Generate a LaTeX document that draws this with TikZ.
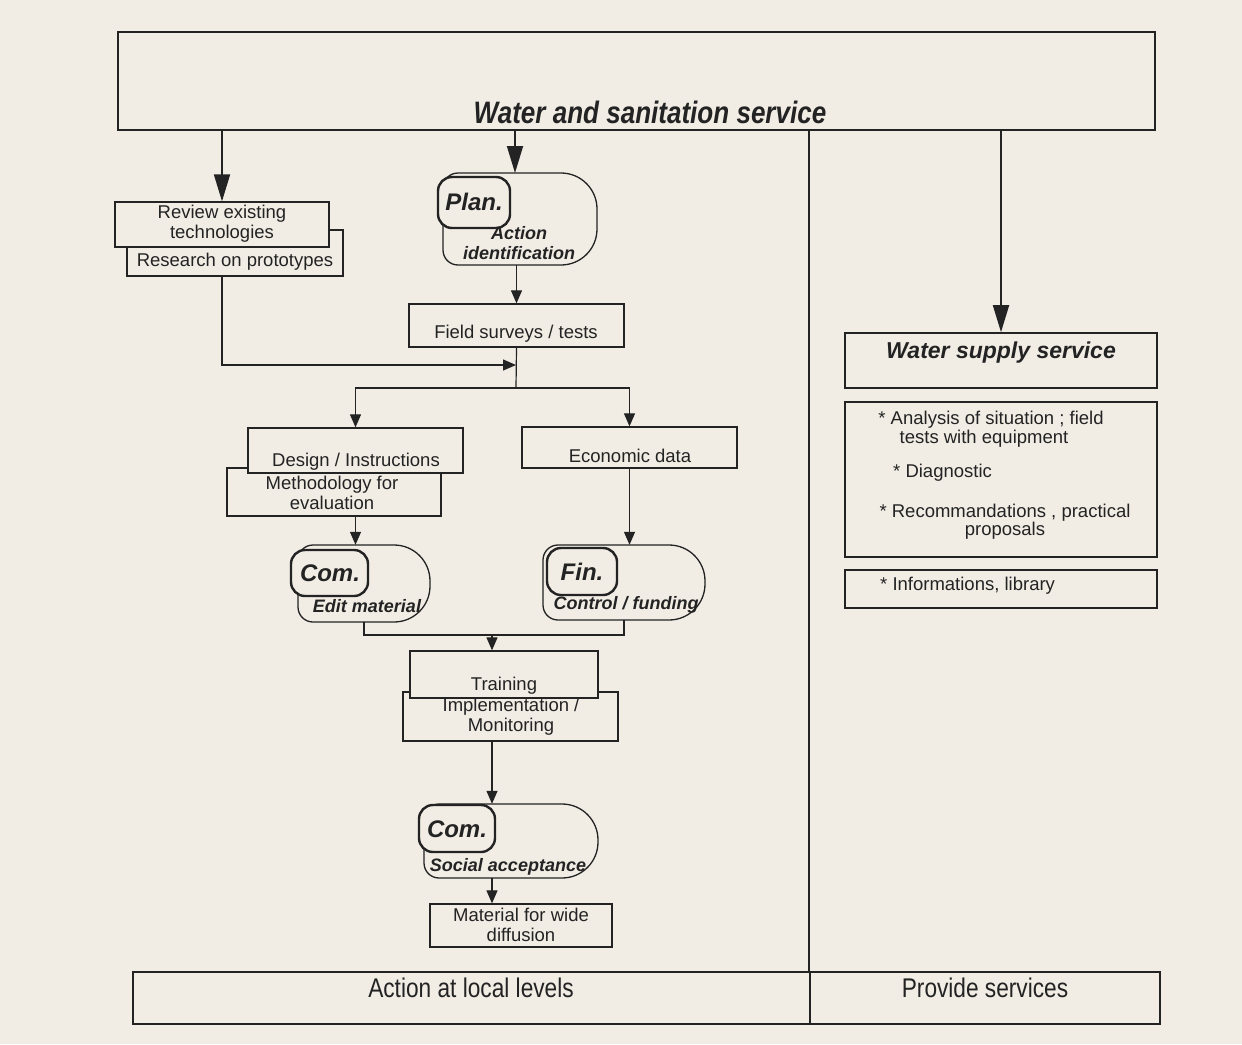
\documentclass[tikz,border=0pt]{standalone}
\usepackage{fontspec}
\setmainfont{Liberation Sans}
\newfontfamily\narrowfont[FakeStretch=0.84]{Liberation Sans}
\usetikzlibrary{arrows.meta,fit,calc}
\definecolor{paper}{RGB}{241,237,229}
\definecolor{ink}{RGB}{35,35,35}
\newcommand\pillshape[5]{%
  \node[fit={(#2,#3) (#4,#5)}, inner sep=0pt] (#1) {};
  \filldraw[pillline] (#2+15,#3) -- (#4-36,#3)
    .. controls (#4-16.1,#3) and (#4,#3+16.1) .. (#4,#3+36)
    -- (#4,#5-36)
    .. controls (#4,#5-16.1) and (#4-16.1,#5) .. (#4-36,#5)
    -- (#2+15,#5)
    .. controls (#2+6.7,#5) and (#2,#5-6.7) .. (#2,#5-15)
    -- (#2,#3+15)
    .. controls (#2,#3+6.7) and (#2+6.7,#3) .. (#2+15,#3) -- cycle;}
\begin{document}
\begin{tikzpicture}[x=1pt,y=-1pt,
  box/.style={draw=ink, line width=1.3pt, fill=paper, inner sep=0pt},
  bigbox/.style={draw=ink, line width=2pt, inner sep=0pt},
  innerbox/.style={draw=ink, line width=2.4pt, fill=paper, rounded corners=14pt, inner sep=0pt},
  pillline/.style={draw=ink, line width=1.3pt, fill=paper},
  txt/.style={font=\fontsize{18.5}{20}\selectfont, align=center, text=ink, inner sep=0pt},
  lbl/.style={font=\fontsize{18}{20}\selectfont\bfseries\itshape, align=center, text=ink, inner sep=0pt},
  biglbl/.style={font=\fontsize{24}{26}\selectfont\bfseries\itshape, text=ink, inner sep=0pt},
  ttl/.style={font=\narrowfont\fontsize{31}{34}\selectfont\bfseries\itshape, text=ink, inner sep=0pt},
  btxt/.style={font=\narrowfont\fontsize{27}{30}\selectfont, text=ink, inner sep=0pt},
  conn/.style={draw=ink, line width=1.2pt},
  arr/.style={conn, -{Triangle[width=11pt,length=13pt]}},
  bigarr/.style={conn, line width=1.8pt, -{Triangle[width=16pt,length=27pt]}}]
\fill[paper] (0,0) rectangle (1242,1044);
\useasboundingbox (0,0) rectangle (1242,1044);

% top box
\node[bigbox, fit={(118,32) (1155,130)}] (top) {};
\node[ttl] (ttltext) at (650,112) {Water and sanitation service};

% bottom boxes
\node[bigbox, fit={(133,972) (810,1024)}] (local) {};
\node[bigbox, fit={(810,972) (1160,1024)}] (prov) {};
\node[btxt] (tlocal) at (471,988) {Action at local levels};
\node[btxt] (tprov) at (985,988) {Provide services};
\draw[conn] (top.south -| prov.west) -- (prov.north west);

% review / research
\node[box, fit={(127,230) (343,276)}] (research) {};
\node[box, fit={(115,202) (329,247)}] (review) {};
\node[txt] (treview) at (222,224) {Review existing\\technologies};
\node[txt] (tresearch) at (235,262) {Research on prototypes};
\draw[bigarr] (review.north |- top.south) -- (review.north);

% plan
\pillshape{planout}{443}{173}{597}{265}
\node[innerbox, fit={(438,177) (510,228)}] (planin) {};
\node[biglbl] (tplan) at (474,202) {Plan.};
\node[lbl] (tplanout) at (519,243) {Action\\identification};
\coordinate (pa) at (515,173);
\draw[bigarr] (pa |- top.south) -- (pa);

% field surveys
\node[box, fit={(409,304) (624,347)}] (field) {};
\node[txt] (tfield) at (516,334) {Field surveys / tests};
\draw[arr] (field.north |- planout.south) -- (field.north);

\coordinate (join) at (516,365);
\coordinate (split) at (516,388);
\draw[arr] (review.south |- research.south) |- (join);
\draw[conn] (field.south) -- (split);

% design / methodology
\node[box, fit={(227,468) (441,516)}] (meth) {};
\node[box, fit={(248,428) (463,473)}] (design) {};
\node[txt] (tdesign) at (356,462) {Design / Instructions};
\node[txt] (tmeth) at (332,493) {Methodology for\\evaluation};

% economic data
\node[box, fit={(522,427) (737,468)}] (econ) {};
\node[txt] (tecon) at (630,456) {Economic data};

\draw[arr] (split) -| (design.north);
\draw[arr] (split) -| (econ.north);

% com edit material
\pillshape{comout}{298}{545}{430}{622}
\node[innerbox, fit={(291,550) (368,596)}] (comin) {};
\node[biglbl] (tcom) at (330,573) {Com.};
\node[lbl] (tcomout) at (367,606) {Edit material};
\draw[arr] (design.south |- meth.south) -- (design.south |- comout.north);

% fin
\pillshape{finout}{543}{545}{705}{620}
\node[innerbox, fit={(547,548) (617,595)}] (finin) {};
\node[biglbl] (tfin) at (582,572) {Fin.};
\node[lbl] (tfinout) at (626,605) {Control / funding};
\draw[arr] (econ.south) -- (econ.south |- finout.north);

% merge
\coordinate (m2) at (492,635);
\draw[conn] (comout.south) -- (comout.south |- m2) -| (finout.south);

% training / implementation
\node[box, fit={(403,692) (618,741)}] (impl) {};
\node[box, fit={(410,651) (598,698)}] (train) {};
\node[txt] (ttrain) at (504,686) {Training};
\node[txt] (timpl) at (511,717) {Implementation /\\Monitoring};
\draw[arr] (m2) -- (m2 |- train.north);

% social acceptance
\pillshape{socout}{424}{804}{598}{878}
\node[innerbox, fit={(419,805) (495,852)}] (socin) {};
\node[biglbl] (tsoc) at (457,829) {Com.};
\node[lbl] (tsocout) at (508,867) {Social acceptance};
\draw[arr] (m2 |- impl.south) -- (m2 |- socout.north);

% material
\node[box, fit={(430,904) (612,947)}] (mat) {};
\node[txt] (tmat) at (521,925) {Material for wide\\diffusion};
\draw[arr] (m2 |- socout.south) -- (m2 |- mat.north);

% right side
\node[box, line width=1.6pt, fit={(845,333) (1157,388)}] (ws) {};
\node[biglbl, font=\fontsize{23}{25}\selectfont\bfseries\itshape] (tws) at (1001,353) {Water supply service};
\draw[bigarr] (ws.north |- top.south) -- (ws.north);

\node[box, line width=1.6pt, fit={(845,402) (1157,557)}] (ana) {};
\node[txt] (ta1) at (991,420) {* Analysis of situation ; field};
\node[txt] (ta2) at (984,439) {tests with equipment};
\node[txt, anchor=west] (ta3) at (893,473) {* Diagnostic};
\node[txt] (ta4) at (1005,513) {* Recommandations , practical};
\node[txt] (ta5) at (1005,531) {proposals};

\node[box, line width=1.6pt, fit={(845,570) (1157,608)}] (info) {};
\node[txt, anchor=west] (tinfo) at (880,586) {* Informations, library};
\end{tikzpicture}
\end{document}
